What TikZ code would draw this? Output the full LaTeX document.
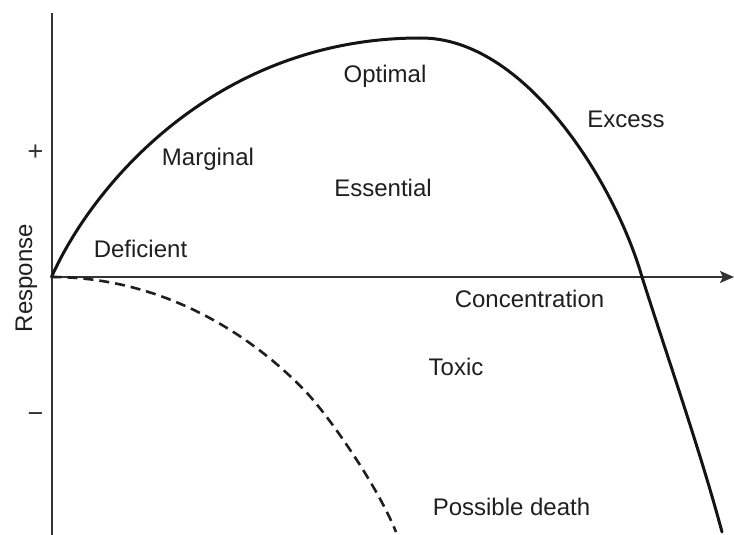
\documentclass[tikz,border=0pt]{standalone}
\usepackage{fontspec}
\setmainfont{Liberation Sans}
\usetikzlibrary{arrows.meta}
\begin{document}
\begin{tikzpicture}[x=1pt,y=-1pt,
  lbl/.style={anchor=base,inner sep=0pt,font=\fontsize{24}{28}\selectfont,text=black!88},
  sgn/.style={anchor=base,inner sep=0pt,font=\fontsize{27}{30}\selectfont,text=black!80},
  axisline/.style={draw=black!80,line width=2pt},
  curve/.style={draw=black!92,line width=3pt,line cap=round,line join=round},
  dashcurve/.style={draw=black!88,line width=2.6pt,dash pattern=on 10pt off 6pt}]
\useasboundingbox (0,0) rectangle (734,535);
% axes
\coordinate (O) at (51.5,277);
\coordinate (ytop) at (51.5,13);
\coordinate (ybot) at (51.5,535);
\coordinate (xend) at (734,277);
\draw[axisline] (ytop) -- (ybot);
\draw[axisline,-{Stealth[length=14pt,width=12pt,inset=3pt]}] (O) -- (xend);
% response curve
\coordinate (peak) at (420,38);
\coordinate (cross) at (642,277);
\coordinate (send) at (722,532);
\draw[curve] (O) .. controls (95,180) and (220,38) .. (peak)
  .. controls (525,37) and (615,183) .. (cross)
  .. controls (668,359) and (700,450) .. (send);
% toxic (dashed) curve
\coordinate (dmid) at (307,393);
\coordinate (dend) at (396,532);
\draw[dashcurve] (O) .. controls (170,277) and (259,342) .. (dmid)
  .. controls (331,419) and (378,487) .. (dend);
% labels
\node[lbl] (optimal) at (385,83) {Optimal};
\node[lbl] (excess) at (626,127) {Excess};
\node[lbl] (marginal) at (208,165) {Marginal};
\node[lbl] (essential) at (383,196) {Essential};
\node[lbl] (deficient) at (140.5,257) {Deficient};
\node[lbl] (conc) at (529.5,307) {Concentration};
\node[lbl] (toxic) at (456,375) {Toxic};
\node[lbl] (death) at (511.5,515) {Possible death};
\node[lbl,rotate=90] (resp) at (32,278) {Response};
\node[sgn] (plus) at (35.5,160) {+};
\node[sgn] (minus) at (35.5,422) {−};
\end{tikzpicture}
\end{document}
